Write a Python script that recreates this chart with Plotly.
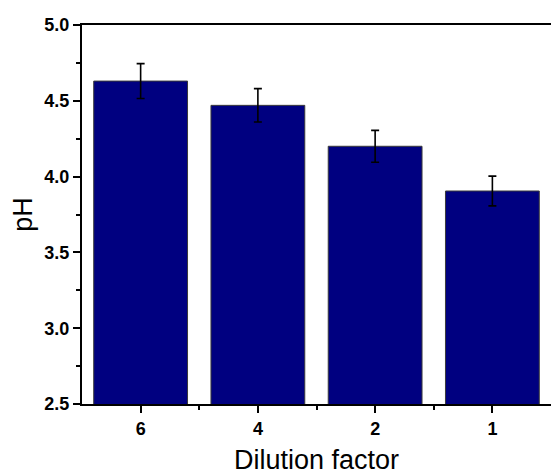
import plotly.graph_objects as go

# Dilution factors and the measured pH (mean ± SD)
categories = ["6", "4", "2", "1"]
ph_mean = [4.63, 4.47, 4.20, 3.905]
ph_err = [0.115, 0.11, 0.105, 0.098]

y_ticks = [2.5, 3.0, 3.5, 4.0, 4.5, 5.0]
y_tick_text = ["2.5", "3.0", "3.5", "4.0", "4.5", "5.0"]

positions = list(range(len(categories)))

tick_font = dict(family="Liberation Sans", size=18, color="black",
                 weight="bold")
title_font = dict(family="Liberation Sans", size=27, color="black")

fig = go.Figure(
    go.Bar(
        x=positions,
        y=ph_mean,
        width=0.8,
        marker=dict(color="#000080", line=dict(color="#3a3a3a", width=1)),
        error_y=dict(type="data", array=ph_err, color="black",
                     thickness=1.6, width=4),
    )
)

fig.update_layout(
    width=551,
    height=475,
    margin=dict(l=82, r=0, t=25, b=71),
    plot_bgcolor="white",
    paper_bgcolor="white",
    showlegend=False,
    bargap=0.2,
)

fig.update_xaxes(
    range=[-0.5, 3.5],
    tickmode="array",
    tickvals=positions,
    ticktext=categories,
    ticks="outside",
    ticklen=7,
    tickwidth=2,
    tickcolor="black",
    tickfont=tick_font,
    showline=True,
    linecolor="black",
    linewidth=2,
    mirror=True,
    showgrid=False,
    zeroline=False,
    minor=dict(tickmode="array", tickvals=[0.5, 1.5, 2.5], ticks="outside",
               ticklen=4, tickwidth=2, tickcolor="black", showgrid=False),
    title=dict(text="Dilution factor", font=title_font, standoff=19),
)

fig.update_yaxes(
    range=[2.5, 5.0],
    tickmode="array",
    tickvals=y_ticks,
    ticktext=y_tick_text,
    ticks="outside",
    ticklen=7,
    tickwidth=2,
    tickcolor="black",
    tickfont=tick_font,
    showline=True,
    linecolor="black",
    linewidth=2,
    mirror=False,
    showgrid=False,
    zeroline=False,
    minor=dict(tickmode="array", tickvals=[2.75, 3.25, 3.75, 4.25, 4.75],
               ticks="outside", ticklen=4, tickwidth=2, tickcolor="black",
               showgrid=False),
    title=dict(text="pH", font=title_font, standoff=4),
)

fig.write_html("out.html")
